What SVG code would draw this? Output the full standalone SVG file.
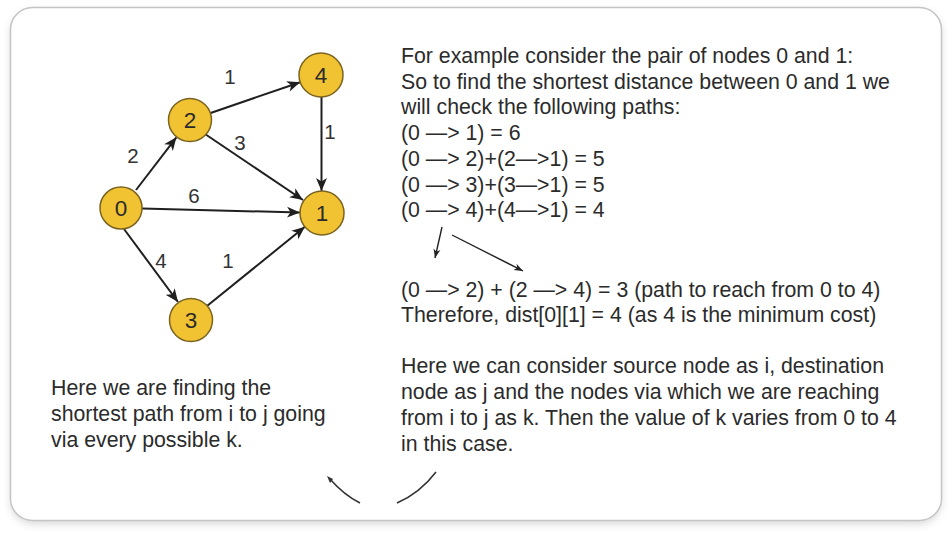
<svg xmlns="http://www.w3.org/2000/svg" width="952" height="536" viewBox="0 0 952 536">
<style>
  .txt { font-family: "Liberation Sans", Arial, sans-serif; font-size: 21.3px; fill: #2b2b2b; }
  .node circle { fill: #f1c232; stroke: #7a6420; stroke-width: 1.5; }
  .node text { font-family: "Liberation Sans", Arial, sans-serif; font-size: 22.5px; fill: #2b2b2b; text-anchor: middle; }
  .elabel { font-family: "Liberation Sans", Arial, sans-serif; font-size: 20.5px; fill: #333; text-anchor: middle; }
  .edge { stroke: #1f1f1f; stroke-width: 2; fill: none; marker-end: url(#ah); }
  .thin { stroke: #222; stroke-width: 1.4; fill: none; marker-end: url(#ahs); }
  .curve { stroke: #333; stroke-width: 1.6; fill: none; }
</style>
<defs>
  <marker id="ah" markerUnits="userSpaceOnUse" markerWidth="14" markerHeight="12" refX="13" refY="6" orient="auto">
    <path d="M0,0.5 L13,6 L0,11.5 L3.5,6 z" fill="#1f1f1f"/>
  </marker>
  <marker id="ahs" markerUnits="userSpaceOnUse" markerWidth="10" markerHeight="8" refX="9" refY="4" orient="auto">
    <path d="M0,0.5 L9,4 L0,7.5 L2.5,4 z" fill="#222"/>
  </marker>
  <filter id="sh" x="-5%" y="-5%" width="110%" height="115%">
    <feGaussianBlur stdDeviation="4"/>
  </filter>
</defs>
<rect width="952" height="536" fill="#ffffff"/>
<rect x="11" y="11" width="930" height="513" rx="22" fill="#d8d8d8" filter="url(#sh)"/>
<rect x="10.5" y="7.5" width="931" height="513" rx="22" fill="#ffffff" stroke="#c4c4c4" stroke-width="1.5"/>

<g id="connectors">
  <line class="edge" x1="136" y1="190" x2="176.4" y2="137.3"/>
  <line class="edge" x1="209.9" y1="113.2" x2="300.2" y2="82.2"/>
  <line class="edge" x1="205" y1="134" x2="303" y2="200"/>
  <line class="edge" x1="142" y1="208.5" x2="300" y2="212.5"/>
  <line class="edge" x1="321.5" y1="97" x2="321.5" y2="191"/>
  <line class="edge" x1="124" y1="229" x2="178" y2="302"/>
  <line class="edge" x1="207.3" y1="305.8" x2="304.9" y2="226.8"/>
  <text class="elabel" x="230" y="84">1</text>
  <text class="elabel" x="133" y="163">2</text>
  <text class="elabel" x="240" y="150">3</text>
  <text class="elabel" x="194" y="203">6</text>
  <text class="elabel" x="161" y="268">4</text>
  <text class="elabel" x="228" y="268">1</text>
  <text class="elabel" x="330" y="139">1</text>
  <line class="thin" x1="442" y1="227" x2="435" y2="258"/>
  <line class="thin" x1="452" y1="235" x2="523" y2="271"/>
  <path class="curve" d="M330,479 Q344,495 360,503"/>
  <path d="M327,476 L333,479 L330,483 z" fill="#333"/>
  <path class="curve" d="M436,472 Q420,493 397,503"/>
</g>

<g id="node0" class="node"><circle cx="121" cy="208" r="21"/><text x="121" y="216">0</text></g>
<g id="node2" class="node"><circle cx="190" cy="120" r="21.5"/><text x="190" y="128">2</text></g>
<g id="node4" class="node"><circle cx="321" cy="75" r="22"/><text x="321" y="83">4</text></g>
<g id="node1" class="node"><circle cx="322" cy="213" r="22"/><text x="322" y="221">1</text></g>
<g id="node3" class="node"><circle cx="191" cy="320" r="21.5"/><text x="191" y="328">3</text></g>

<g id="text-right">
  <text class="txt" x="401" y="63">For example consider the pair of nodes 0 and 1:</text>
  <text class="txt" x="401" y="89">So to find the shortest distance between 0 and 1 we</text>
  <text class="txt" x="401" y="114">will check the following paths:</text>
  <text class="txt" x="401" y="140">(0 —&gt; 1) = 6</text>
  <text class="txt" x="401" y="166">(0 —&gt; 2)+(2—&gt;1) = 5</text>
  <text class="txt" x="401" y="192">(0 —&gt; 3)+(3—&gt;1) = 5</text>
  <text class="txt" x="401" y="217">(0 —&gt; 4)+(4—&gt;1) = 4</text>
  <text class="txt" x="401" y="297">(0 —&gt; 2) + (2 —&gt; 4) = 3 (path to reach from 0 to 4)</text>
  <text class="txt" x="401" y="322">Therefore, dist[0][1] = 4 (as 4 is the minimum cost)</text>
  <text class="txt" x="401" y="373">Here we can consider source node as i, destination</text>
  <text class="txt" x="401" y="399">node as j and the nodes via which we are reaching</text>
  <text class="txt" x="401" y="425">from i to j as k. Then the value of k varies from 0 to 4</text>
  <text class="txt" x="401" y="451">in this case.</text>
</g>
<g id="text-left">
  <text class="txt" x="51" y="395">Here we are finding the</text>
  <text class="txt" x="51" y="421">shortest path from i to j going</text>
  <text class="txt" x="51" y="447">via every possible k.</text>
</g>
</svg>
